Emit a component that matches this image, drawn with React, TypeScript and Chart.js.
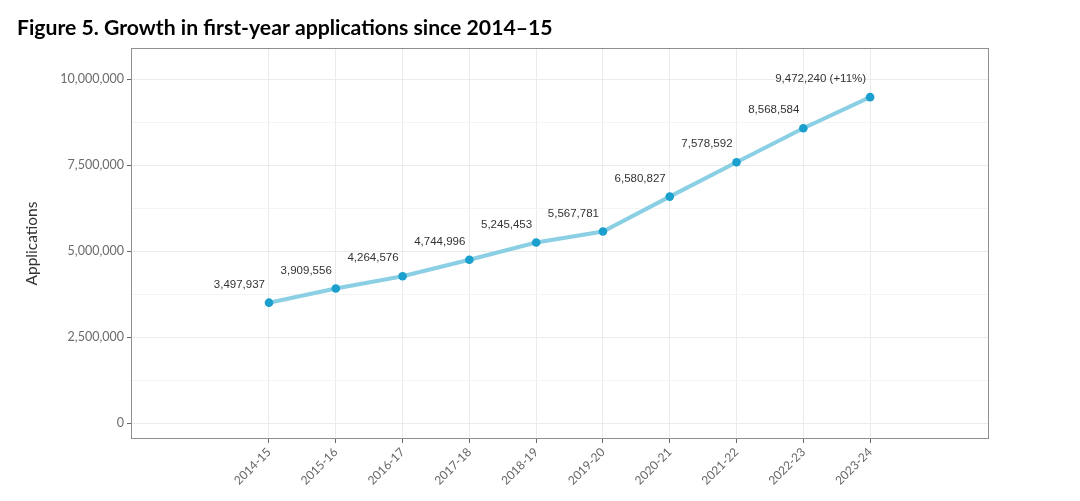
import React, { useEffect, useRef } from "react";
import { Chart, registerables } from "chart.js";

Chart.register(...registerables);

const categories = ["2014-15", "2015-16", "2016-17", "2017-18", "2018-19", "2019-20", "2020-21", "2021-22", "2022-23", "2023-24"];
const applications = [3497937, 3909556, 4264576, 4744996, 5245453, 5567781, 6580827, 7578592, 8568584, 9472240];
const labelNotes = ["", "", "", "", "", "", "", "", "", " (+11%)"];
const majorYTicks = [0, 2500000, 5000000, 7500000, 10000000];
const minorYTicks = [1250000, 3750000, 6250000, 8750000];

const TITLE = "Figure 5. Growth in first-year applications since 2014\u201315";
const Y_TITLE = "Applications";

const fmt = (v: number) => v.toLocaleString("en-US");

const labelPlugin = {
  id: "pointLabels",
  afterDatasetsDraw(chart: any) {
    const ctx = chart.ctx;
    const meta = chart.getDatasetMeta(0);
    ctx.save();
    ctx.font = "11.5px 'Liberation Sans', Arial, sans-serif";
    ctx.fillStyle = "#333333";
    ctx.textAlign = "right";
    ctx.textBaseline = "middle";
    meta.data.forEach((el: any, i: number) => {
      ctx.fillText(fmt(applications[i]) + labelNotes[i], el.x - 4, el.y - 18);
    });
    ctx.restore();
  },
};

const borderPlugin = {
  id: "panelBorder",
  afterDraw(chart: any) {
    const { ctx, chartArea } = chart;
    ctx.save();
    ctx.strokeStyle = "#8f8f8f";
    ctx.lineWidth = 1;
    ctx.strokeRect(
      Math.round(chartArea.left) + 0.5,
      Math.round(chartArea.top) + 0.5,
      Math.round(chartArea.right - chartArea.left) - 1,
      Math.round(chartArea.bottom - chartArea.top) - 1
    );
    ctx.restore();
  },
};

export default function App() {
  const ref = useRef<HTMLCanvasElement | null>(null);

  useEffect(() => {
    document.body.style.margin = "0";
    document.body.style.background = "#ffffff";
    const canvas = ref.current;
    if (!canvas) return;
    const allY = [...majorYTicks, ...minorYTicks].sort((a, b) => a - b);
    const chart = new Chart(canvas, {
      type: "line",
      data: {
        datasets: [
          {
            data: applications.map((v, i) => ({ x: i, y: v })),
            borderColor: "#8acfe4",
            borderWidth: 4,
            pointBackgroundColor: "#1b9fcd",
            pointBorderWidth: 0,
            pointRadius: 4.3,
            tension: 0,
          },
        ],
      },
      options: {
        animation: false,
        responsive: false,
        devicePixelRatio: 1,
        layout: { padding: { left: 17, right: 91, top: 0, bottom: 0 } },
        plugins: {
          legend: { display: false },
          tooltip: { enabled: false },
          title: {
            display: true,
            text: TITLE,
            align: "start",
            color: "#000000",
            font: { family: "Lato, 'Open Sans', sans-serif", size: 21.2, weight: "bold", lineHeight: 1.2 },
            padding: { top: 15, bottom: 7.6 },
          },
        },
        scales: {
          x: {
            type: "linear",
            min: -2.066,
            max: 10.78,
            afterBuildTicks: (scale: any) => {
              scale.ticks = categories.map((_, i) => ({ value: i }));
            },
            afterFit: (scale: any) => {
              scale.height = 62;
            },
            ticks: {
              autoSkip: false,
              maxRotation: 45,
              minRotation: 45,
              padding: 2,
              color: "#666666",
              font: { family: "Lato, sans-serif", size: 12 },
              callback: (v: any) => categories[v as number] ?? "",
            },
            grid: {
              color: "#ebebeb",
              tickColor: "#666666",
              tickLength: 4,
              lineWidth: 1,
            },
            border: { display: false },
          },
          y: {
            type: "linear",
            min: -465000,
            max: 10900000,
            afterBuildTicks: (scale: any) => {
              scale.ticks = allY.map((v) => ({ value: v }));
            },
            afterFit: (scale: any) => {
              scale.width = 114;
            },
            ticks: {
              autoSkip: false,
              padding: 3,
              color: "#6b6b6b",
              font: { family: "Lato, sans-serif", size: 12.5 },
              callback: (v: any) => (majorYTicks.includes(v as number) ? fmt(v as number) : ""),
            },
            grid: {
              color: (c: any) => (majorYTicks.includes(c.tick?.value) ? "#ebebeb" : "#f4f4f4"),
              tickColor: (c: any) => (majorYTicks.includes(c.tick?.value) ? "#666666" : "rgba(0,0,0,0)"),
              tickLength: 4,
              lineWidth: 1,
            },
            border: { display: false },
            title: {
              display: true,
              text: Y_TITLE,
              color: "#333333",
              font: { family: "Lato, sans-serif", size: 15.5 },
              padding: { top: 6, bottom: 4 },
            },
          },
        },
      },
      plugins: [labelPlugin, borderPlugin],
    } as any);
    return () => chart.destroy();
  }, []);

  return (
    <div style={{ position: "absolute", left: 0, top: 0, width: 1080, height: 501, background: "#fff" }}>
      <canvas ref={ref} width={1080} height={501} style={{ display: "block", width: 1080, height: 501 }} />
    </div>
  );
}
